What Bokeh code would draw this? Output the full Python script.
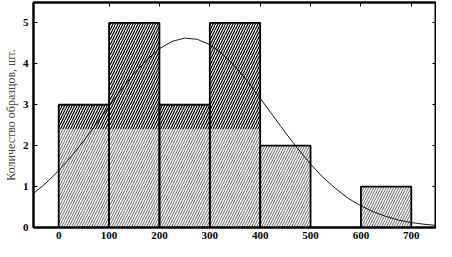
from bokeh.plotting import figure
from bokeh.models import LinearAxis, FixedTicker, Range1d
from bokeh.embed import file_html
from bokeh.resources import INLINE

# Histogram data (interval bounds and counts)
bin_left = [0, 100, 200, 300, 400, 600]
bin_right = [100, 200, 300, 400, 500, 700]
counts = [3, 5, 3, 5, 2, 1]

# Fitted curve
curve_x = [-50, -25, 0, 25, 50, 75, 100, 125, 150, 175, 200, 225, 250, 275, 300,
           325, 350, 375, 400, 425, 450, 475, 500, 525, 550, 575, 600, 625, 650,
           675, 700, 725, 750]
curve_y = [0.83, 1.09, 1.39, 1.74, 2.12, 2.54, 2.96, 3.38, 3.77, 4.10, 4.37, 4.55,
           4.63, 4.60, 4.47, 4.24, 3.94, 3.57, 3.16, 2.74, 2.32, 1.92, 1.55, 1.22,
           0.95, 0.71, 0.53, 0.38, 0.27, 0.18, 0.12, 0.08, 0.05]

x_ticks = [0, 100, 200, 300, 400, 500, 600, 700]
y_ticks = [0, 1, 2, 3, 4, 5]
y_label = "Количество образцов, шт."

# style: the scanned hatch looks darker above this level
dense_from = 2.4

p = figure(width=436, height=241, output_backend="svg", toolbar_location=None,
           x_range=Range1d(-50, 750), y_range=Range1d(0, 5.5),
           min_border_left=0, min_border_right=0, min_border_top=2,
           min_border_bottom=0)
p.background_fill_color = "white"
p.border_fill_color = "white"
p.outline_line_color = "black"
p.outline_line_width = 2
p.xgrid.visible = False
p.ygrid.visible = False

# light hatch for whole bars
p.quad(left=bin_left, right=bin_right, bottom=0, top=counts,
       fill_color="white", line_color=None,
       hatch_pattern="/", hatch_color="black", hatch_scale=5, hatch_weight=0.6)
# darker hatch for upper part of tall bars
up_l = [l for l, c in zip(bin_left, counts) if c > dense_from]
up_r = [r for r, c in zip(bin_right, counts) if c > dense_from]
up_t = [c for c in counts if c > dense_from]
p.quad(left=up_l, right=up_r, bottom=dense_from, top=up_t,
       fill_color="white", line_color=None,
       hatch_pattern="/", hatch_color="black", hatch_scale=5, hatch_weight=1.2)
# outlines
p.quad(left=bin_left, right=bin_right, bottom=0, top=counts,
       fill_color=None, line_color="black", line_width=1.8)
p.line(curve_x, curve_y, line_color="black", line_width=0.9)

tick_font = "Liberation Serif"
for ax in [p.xaxis[0], p.yaxis[0]]:
    ax.major_tick_in = 4
    ax.major_tick_out = 0
    ax.minor_tick_line_color = None
    ax.axis_line_width = 2
    ax.major_tick_line_width = 1
    ax.major_label_text_font = tick_font
    ax.major_label_text_font_style = "bold"
    ax.major_label_text_font_size = "11px"
    ax.major_label_text_color = "black"

p.xaxis[0].ticker = FixedTicker(ticks=x_ticks)
p.yaxis[0].ticker = FixedTicker(ticks=y_ticks)
p.xaxis[0].major_label_standoff = 4
p.yaxis[0].major_label_standoff = 5
p.yaxis[0].axis_label = y_label
p.yaxis[0].axis_label_text_font = "Liberation Serif"
p.yaxis[0].axis_label_text_font_style = "normal"
p.yaxis[0].axis_label_text_font_size = "12px"
p.yaxis[0].axis_label_standoff = 2

top_axis = LinearAxis(ticker=FixedTicker(ticks=x_ticks[1:]),
                      major_label_overrides={t: "" for t in x_ticks[1:]},
                      major_label_text_color=None,
                      major_tick_in=4, major_tick_out=0, minor_tick_line_color=None,
                      axis_line_width=2, major_label_standoff=0)
right_axis = LinearAxis(ticker=FixedTicker(ticks=y_ticks[1:]),
                        major_label_overrides={t: "" for t in y_ticks[1:]},
                        major_label_text_color=None,
                        major_tick_in=4, major_tick_out=0, minor_tick_line_color=None,
                        axis_line_width=2, major_label_standoff=0)
p.add_layout(top_axis, "above")
p.add_layout(right_axis, "right")

open("out.html", "w").write(file_html(p, INLINE))
